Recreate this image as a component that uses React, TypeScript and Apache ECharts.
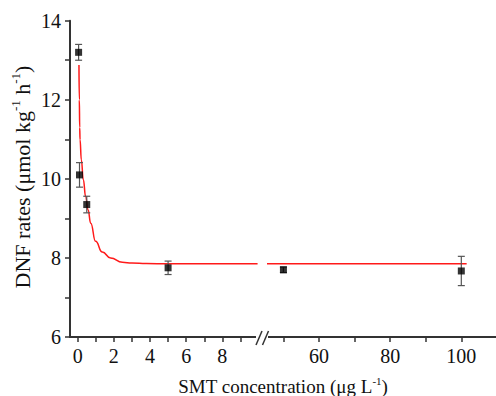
import React, { useEffect, useRef } from 'react';
import * as echarts from 'echarts';

// Measured points (SMT concentration, DNF rate, standard error)
const pointX = [0.05, 0.1, 0.5, 5, 50, 100];
const pointY = [13.2, 10.1, 9.35, 7.75, 7.7, 7.67];
const pointErr = [0.2, 0.31, 0.21, 0.17, 0.07, 0.37];

// Fitted curve (left segment of broken axis)
const fitLeftX = [0.07, 0.09, 0.11, 0.13, 0.2, 0.31, 0.44, 0.57, 0.72, 0.99, 1.36, 1.82, 2.47, 3.0, 3.8, 5, 7, 9.95];
const fitLeftY = [12.88, 12.0, 11.3, 10.99, 10.48, 9.98, 9.55, 9.22, 8.88, 8.42, 8.15, 8.0, 7.89, 7.87, 7.86, 7.85, 7.85, 7.85];
// Fitted curve (right segment)
const fitRightX = [45.2, 101.5];
const fitRightY = [7.85, 7.85];

// Tick values
const leftTickLabels = [0, 2, 4, 6, 8];
const leftTicks = [0, 1, 2, 3, 4, 5, 6, 7, 8, 9];
const rightTickLabels = [60, 80, 100];
const rightTicks = [50, 60, 70, 80, 90, 100];
const yTickLabels = [6, 8, 10, 12, 14];
const yTicks = [6, 7, 8, 9, 10, 11, 12, 13, 14];

const BREAK_X = 10;
const FONT = 'Liberation Serif';
const AXIS_COLOR = '#333';

export default function App() {
  const ref = useRef<HTMLDivElement>(null);

  useEffect(() => {
    if (!ref.current) return;
    const chart = echarts.init(ref.current, undefined, { renderer: 'svg' });

    const leftPts = pointX.map((x, i) => [x, pointY[i], pointErr[i]]).filter((p) => p[0] < BREAK_X);
    const rightPts = pointX.map((x, i) => [x, pointY[i], pointErr[i]]).filter((p) => p[0] >= BREAK_X);

    const errorItem = (params: any, api: any) => {
      const x = api.value(0);
      const y = api.value(1);
      const e = api.value(2);
      const top = api.coord([x, y + e]);
      const bot = api.coord([x, y - e]);
      const hw = 3.5;
      const st = { stroke: '#555', lineWidth: 1.2 };
      return {
        type: 'group',
        children: [
          { type: 'line', shape: { x1: top[0], y1: top[1], x2: bot[0], y2: bot[1] }, style: st },
          { type: 'line', shape: { x1: top[0] - hw, y1: top[1], x2: top[0] + hw, y2: top[1] }, style: st },
          { type: 'line', shape: { x1: bot[0] - hw, y1: bot[1], x2: bot[0] + hw, y2: bot[1] }, style: st },
        ],
      };
    };

    const labelStyle = { color: '#111', fontFamily: FONT, fontSize: 20 };
    const axisLine = { onZero: false, lineStyle: { color: AXIS_COLOR, width: 2 } };
    const axisTickBase = { length: 5, lineStyle: { color: AXIS_COLOR, width: 1.5 } };

    const xRich = {
      n: { fontFamily: FONT, fontSize: 19, fill: '#111', lineHeight: 22 },
      s: { fontFamily: FONT, fontSize: 11, fill: '#111', lineHeight: 11, verticalAlign: 'top' },
    };
    const yRich = {
      n: { fontFamily: FONT, fontSize: 22, fill: '#111', lineHeight: 26 },
      s: { fontFamily: FONT, fontSize: 13, fill: '#111', lineHeight: 13, verticalAlign: 'top' },
    };

    const option: any = {
      animation: false,
      backgroundColor: '#fff',
      grid: [
        { left: 70, top: 20.7, width: 186, bottom: 59 },
        { left: 268, top: 20.7, right: 0, bottom: 59 },
      ],
      xAxis: [
        {
          gridIndex: 0, type: 'value', min: -0.426, max: 9.862, position: 'bottom',
          axisLine, splitLine: { show: false },
          axisTick: { ...axisTickBase, customValues: leftTicks },
          axisLabel: { ...labelStyle, margin: 9, customValues: leftTickLabels },
        },
        {
          gridIndex: 1, type: 'value', min: 45.664, max: 109.75, position: 'bottom',
          axisLine, splitLine: { show: false },
          axisTick: { ...axisTickBase, customValues: rightTicks },
          axisLabel: { ...labelStyle, margin: 9, customValues: rightTickLabels },
        },
      ],
      yAxis: [
        {
          gridIndex: 0, type: 'value', min: 6, max: 14,
          axisLine: { show: true, onZero: false, lineStyle: { color: AXIS_COLOR, width: 2 } },
          splitLine: { show: false },
          axisTick: { ...axisTickBase, customValues: yTicks },
          axisLabel: { ...labelStyle, margin: 9, customValues: yTickLabels },
        },
        { gridIndex: 1, type: 'value', min: 6, max: 14, show: false },
      ],
      series: [
        {
          type: 'line', xAxisIndex: 0, yAxisIndex: 0, clip: false,
          data: fitLeftX.map((x, i) => [x, fitLeftY[i]]),
          smooth: 0.5, smoothMonotone: 'x', showSymbol: false,
          lineStyle: { color: '#ff1a1a', width: 1.5 }, z: 2,
        },
        {
          type: 'line', xAxisIndex: 1, yAxisIndex: 1, clip: false,
          data: fitRightX.map((x, i) => [x, fitRightY[i]]),
          showSymbol: false, lineStyle: { color: '#ff1a1a', width: 1.5 }, z: 2,
        },
        { type: 'custom', xAxisIndex: 0, yAxisIndex: 0, renderItem: errorItem, data: leftPts, z: 3 },
        { type: 'custom', xAxisIndex: 1, yAxisIndex: 1, renderItem: errorItem, data: rightPts, z: 3 },
        {
          type: 'scatter', xAxisIndex: 0, yAxisIndex: 0, data: leftPts.map((p) => [p[0], p[1]]),
          symbol: 'rect', symbolSize: 7, itemStyle: { color: '#000' }, z: 4,
        },
        {
          type: 'scatter', xAxisIndex: 1, yAxisIndex: 1, data: rightPts.map((p) => [p[0], p[1]]),
          symbol: 'rect', symbolSize: 7, itemStyle: { color: '#000' }, z: 4,
        },
      ],
      graphic: [
        { type: 'rect', shape: { x: 256, y: 330, width: 12, height: 14 }, style: { fill: '#fff' }, z: 10 },
        { type: 'line', shape: { x1: 256, y1: 345, x2: 262, y2: 331 }, style: { stroke: AXIS_COLOR, lineWidth: 1.5 }, z: 11 },
        { type: 'line', shape: { x1: 262.5, y1: 345, x2: 268.5, y2: 331 }, style: { stroke: AXIS_COLOR, lineWidth: 1.5 }, z: 11 },
        {
          type: 'text', x: 283, y: 386, z: 11,
          style: {
            text: '{n|SMT concentration (μg L}{s|-1}{n|)}',
            rich: xRich, align: 'center', verticalAlign: 'middle',
            fontFamily: FONT, fontSize: 19, fill: '#111',
          },
        },
        {
          type: 'text', x: 22, y: 177, rotation: Math.PI / 2, z: 11,
          style: {
            text: '{n|DNF rates (μmol kg}{s|-1}{n| h}{s|-1}{n|)}',
            rich: yRich, align: 'center', verticalAlign: 'middle',
            fontFamily: FONT, fontSize: 22, fill: '#111',
          },
        },
      ],
    };

    chart.setOption(option);
    return () => chart.dispose();
  }, []);

  return <div ref={ref} style={{ position: 'fixed', left: 0, top: 0, width: 496, height: 396 }} />;
}
